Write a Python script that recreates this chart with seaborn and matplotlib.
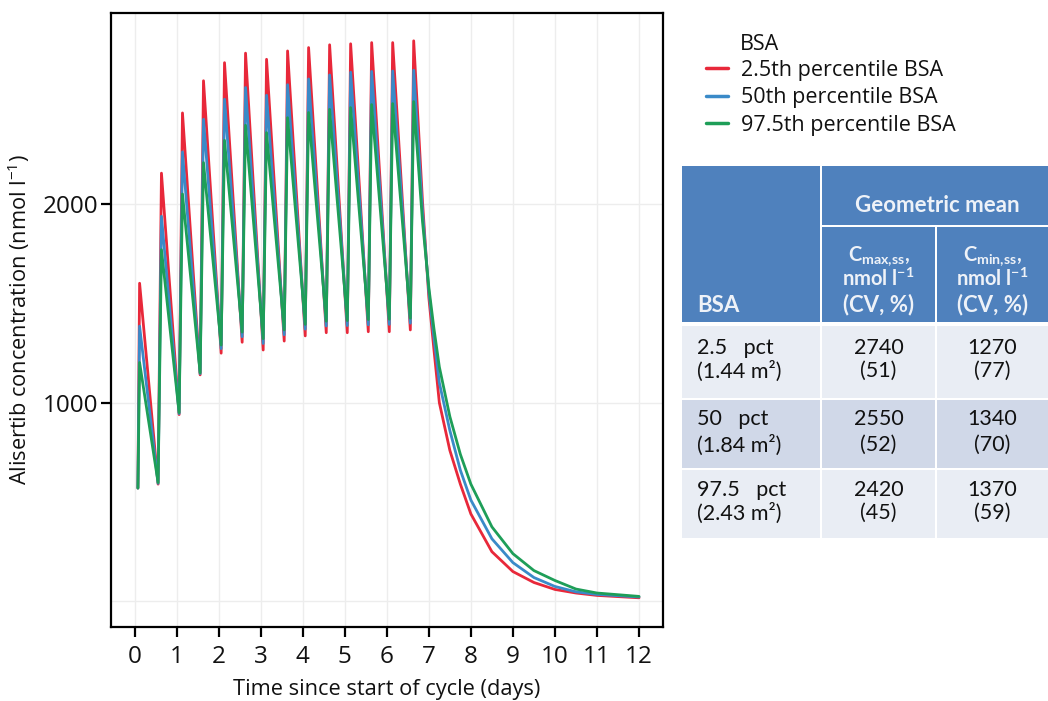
import matplotlib
matplotlib.use("Agg")
import matplotlib.pyplot as plt
import seaborn as sns
import pandas as pd
from matplotlib.patches import Rectangle
from matplotlib.lines import Line2D

# ---------------- data ----------------
series_names = ["2.5th percentile BSA", "50th percentile BSA", "97.5th percentile BSA"]
series_colors = ["#E8283A", "#3A8AC8", "#1E9E58"]

start_day = 0.08
start_conc = 570

peak_days = [0.12, 0.64, 1.14, 1.64, 2.14, 2.64, 3.14, 3.64, 4.14, 4.64, 5.14, 5.64, 6.14, 6.64]
trough_days = [0.56, 1.06, 1.56, 2.06, 2.56, 3.06, 3.56, 4.06, 4.56, 5.06, 5.56, 6.06, 6.56]
decay_days = [6.85, 7.0, 7.12, 7.25, 7.5, 7.75, 8.0, 8.5, 9.0, 9.5, 10.0, 10.5, 11.0, 12.0]

peaks_p2_5 = [1601, 2155, 2458, 2620, 2711, 2759, 2728, 2770, 2787, 2801, 2806, 2812, 2812, 2821]
peaks_p50 = [1385, 1938, 2262, 2426, 2527, 2586, 2547, 2600, 2629, 2649, 2663, 2667, 2669, 2673]
peaks_p97_5 = [1202, 1770, 2050, 2208, 2320, 2396, 2359, 2434, 2460, 2476, 2485, 2500, 2505, 2515]

troughs_p2_5 = [590, 940, 1140, 1249, 1304, 1265, 1310, 1336, 1352, 1352, 1357, 1357, 1366]
troughs_p50 = [594, 945, 1146, 1272, 1332, 1298, 1342, 1370, 1386, 1388, 1392, 1394, 1400]
troughs_p97_5 = [598, 950, 1150, 1290, 1355, 1322, 1366, 1394, 1410, 1413, 1418, 1420, 1425]

decay_p2_5 = [2010, 1530, 1270, 1000, 760, 590, 440, 250, 150, 95, 60, 42, 30, 18]
decay_p50 = [1960, 1560, 1330, 1100, 860, 660, 510, 315, 195, 120, 75, 48, 35, 22]
decay_p97_5 = [1910, 1580, 1375, 1180, 930, 740, 590, 375, 240, 155, 105, 62, 42, 25]

x_ticks = list(range(13))
y_ticks = [1000, 2000]

# table content
table_header_group = "Geometric mean"
table_bsa_labels = ["2.5   pct", "50   pct", "97.5   pct"]
table_bsa_area = ["(1.44 m\u00b2)", "(1.84 m\u00b2)", "(2.43 m\u00b2)"]
table_cmax = ["2740", "2550", "2420"]
table_cmax_cv = ["(51)", "(52)", "(45)"]
table_cmin = ["1270", "1340", "1370"]
table_cmin_cv = ["(77)", "(70)", "(59)"]

# ---------------- build long-form data ----------------
rows = []
for name, pk, tr, dc in zip(series_names,
                            [peaks_p2_5, peaks_p50, peaks_p97_5],
                            [troughs_p2_5, troughs_p50, troughs_p97_5],
                            [decay_p2_5, decay_p50, decay_p97_5]):
    rows.append((name, start_day, start_conc))
    for i in range(len(peak_days)):
        rows.append((name, peak_days[i], pk[i]))
        if i < len(trough_days):
            rows.append((name, trough_days[i], tr[i]))
    for d, v in zip(decay_days, dc):
        rows.append((name, d, v))
df = pd.DataFrame(rows, columns=["BSA", "day", "conc"])

# ---------------- style ----------------
sns.set_theme(style="white")
plt.rcParams["font.family"] = ["Open Sans", "DejaVu Sans"]
plt.rcParams["mathtext.fontset"] = "custom"
plt.rcParams["mathtext.rm"] = "Open Sans"
plt.rcParams["mathtext.it"] = "Open Sans:italic"
plt.rcParams["mathtext.bf"] = "Open Sans:bold"

fig = plt.figure(figsize=(10.48, 7.01), dpi=100)
W, H = 1048, 701
ax = fig.add_axes([111 / W, 1 - 627 / H, (663 - 111) / W, (627 - 13) / H])

sns.lineplot(data=df, x="day", y="conc", hue="BSA", hue_order=series_names,
             palette=series_colors, estimator=None, sort=False,
             linewidth=2, legend=False, ax=ax)

ax.set_xlim(-0.56, 12.57)
ax.set_ylim(-129, 2961)
ax.set_xticks(x_ticks)
ax.set_xticklabels([str(t) for t in x_ticks])
ax.set_yticks(y_ticks)
ax.set_yticklabels([str(t) for t in y_ticks])
ax.grid(True, color="#EDEDED", linewidth=1.0)
ax.axhline(0, color="#EDEDED", linewidth=1.0, zorder=0)
ax.set_axisbelow(True)
for sp in ax.spines.values():
    sp.set_color("black")
    sp.set_linewidth(1.6)
ax.tick_params(axis="both", which="major", bottom=True, left=True, direction="out",
               length=7, width=1.6, color="black", labelsize=17.5, labelcolor="#111111")
ax.tick_params(axis="x", pad=6)
ax.tick_params(axis="y", pad=2)
ax.set_xlabel("Time since start of cycle (days)", fontsize=15.7, color="#111111", labelpad=7)
ax.set_ylabel("Alisertib concentration (nmol l$^{\\mathregular{\u22121}}$)", fontsize=15.7,
              color="#111111", labelpad=8)

# legend
handles = [Line2D([], [], color=c, lw=2.5) for c in series_colors]
fig.text(740 / W, 1 - 44 / H, "BSA", fontsize=15.5, ha="left", va="center", color="#111111")
fig.legend(handles, series_names, loc="upper left", bbox_to_anchor=(706 / W, 1 - 60 / H),
           frameon=False, fontsize=15.5, handlelength=1.0, handletextpad=0.62,
           labelspacing=0.3, borderpad=0, borderaxespad=0, labelcolor="#111111")

# ---------------- table ----------------
tab = fig.add_axes([0, 0, 1, 1], facecolor="none")
tab.set_xlim(0, W)
tab.set_ylim(H, 0)
tab.axis("off")

hdr = "#4F81BD"
light = "#E9EDF4"
mid = "#D0D8E8"
htxt = "#EEF2F8"

def cell(x0, x1, y0, y1, color):
    tab.add_patch(Rectangle((x0, y0), x1 - x0, y1 - y0, facecolor=color, edgecolor="none"))

c0, c1, c2, c3 = 682, 820, 822, 1048
m1, m2 = 935, 937
cell(c0, c1, 166, 322, hdr)
cell(c2, c3, 166, 225, hdr)
cell(c2, m1, 227, 322, hdr)
cell(m2, c3, 227, 322, hdr)
row_y = [(326, 398), (400, 468), (470, 538)]
row_c = [light, mid, light]
for (y0, y1), col in zip(row_y, row_c):
    cell(c0, c1, y0, y1, col)
    cell(c2, m1, y0, y1, col)
    cell(m2, c3, y0, y1, col)

tf = ["Lato", "DejaVu Sans"]
tab.text((c2 + c3) / 2 + 2, 206, table_header_group, ha="center", va="center", fontsize=16,
         fontweight="bold", color=htxt, family=tf)
tab.text(697, 305, "BSA", ha="left", va="center", fontsize=16, fontweight="bold", color=htxt, family=tf)
for xc, sub in [((c2 + m1) / 2, "max{,}ss"), ((m2 + c3) / 2, "min{,}ss")]:
    tab.text(xc, 256, "C$_{\\mathregular{%s}}$," % sub, ha="center", va="center", fontsize=14.5,
             fontweight="bold", color=htxt, family=tf)
    tab.text(xc, 279, "nmol l$^{\\mathregular{\u22121}}$", ha="center", va="center", fontsize=14.5,
             fontweight="bold", color=htxt, family=tf)
    tab.text(xc, 305, "(CV, %)", ha="center", va="center", fontsize=16,
             fontweight="bold", color=htxt, family=tf)

line_y = [(348, 371), (419, 445), (490, 513)]
fs = 15.5
for i, (ya, yb) in enumerate(line_y):
    tab.text(697, ya, table_bsa_labels[i], ha="left", va="center", fontsize=fs, color="#111111", family=tf)
    tab.text(697, yb, table_bsa_area[i], ha="left", va="center", fontsize=fs, color="#111111", family=tf)
    tab.text((c2 + m1) / 2, ya, table_cmax[i], ha="center", va="center", fontsize=fs, color="#111111", family=tf)
    tab.text((c2 + m1) / 2, yb, table_cmax_cv[i], ha="center", va="center", fontsize=fs, color="#111111", family=tf)
    tab.text((m2 + c3) / 2, ya, table_cmin[i], ha="center", va="center", fontsize=fs, color="#111111", family=tf)
    tab.text((m2 + c3) / 2, yb, table_cmin_cv[i], ha="center", va="center", fontsize=fs, color="#111111", family=tf)

fig.savefig("out.png", dpi=100)
